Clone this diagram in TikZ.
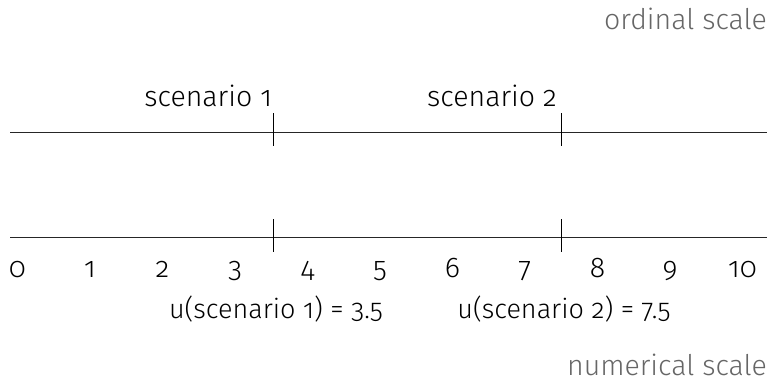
\documentclass[tikz,border=0pt]{standalone}
\usepackage{fontspec}
\setmainfont[Numbers=OldStyle,UprightFont={* Light}]{Fira Sans}
\begin{document}
\begin{tikzpicture}[x=1pt,y=-1pt,
  axis/.style={line width=0.9pt,black!85},
  tickmark/.style={line width=0.8pt,black},
  lab/.style={inner sep=0pt,font=\fontsize{28.5}{34}\selectfont},
  ulab/.style={inner sep=0pt,font=\fontsize{27}{32}\selectfont},
  scalelab/.style={lab,text=black!60}]
\useasboundingbox (0,0) rectangle (773,383);
% axes
\coordinate (oL) at (10,132); \coordinate (oR) at (767,132);
\coordinate (nL) at (10,237); \coordinate (nR) at (767,237);
\draw[axis] (oL) -- (oR);
\draw[axis] (nL) -- (nR);
% ticks
\coordinate (t1a) at (273,113); \coordinate (t1b) at (273,146);
\coordinate (t2a) at (561,113); \coordinate (t2b) at (561,146);
\coordinate (t3a) at (273,219); \coordinate (t3b) at (273,252);
\coordinate (t4a) at (561,219); \coordinate (t4b) at (561,252);
\draw[tickmark] (t1a) -- (t1b);
\draw[tickmark] (t2a) -- (t2b);
\draw[tickmark] (t3a) -- (t3b);
\draw[tickmark] (t4a) -- (t4b);
% labels
\node[scalelab,anchor=base east] (ord) at (767,29) {ordinal scale};
\node[scalelab,anchor=base east] (num) at (767,375) {numerical scale};
\node[lab,anchor=base east] (s1) at (272,106) {scenario 1};
\node[lab,anchor=base east] (s2) at (557,106) {scenario 2};
\foreach \i in {0,...,10} {
  \node[lab,anchor=base] (n\i) at ({17.5+72.5*\i},277) {\i};
}
\node[ulab,anchor=base] (u1) at (276,318) {u(scenario 1) = 3.5};
\node[ulab,anchor=base] (u2) at (564,318) {u(scenario 2) = 7.5};
\end{tikzpicture}
\end{document}
